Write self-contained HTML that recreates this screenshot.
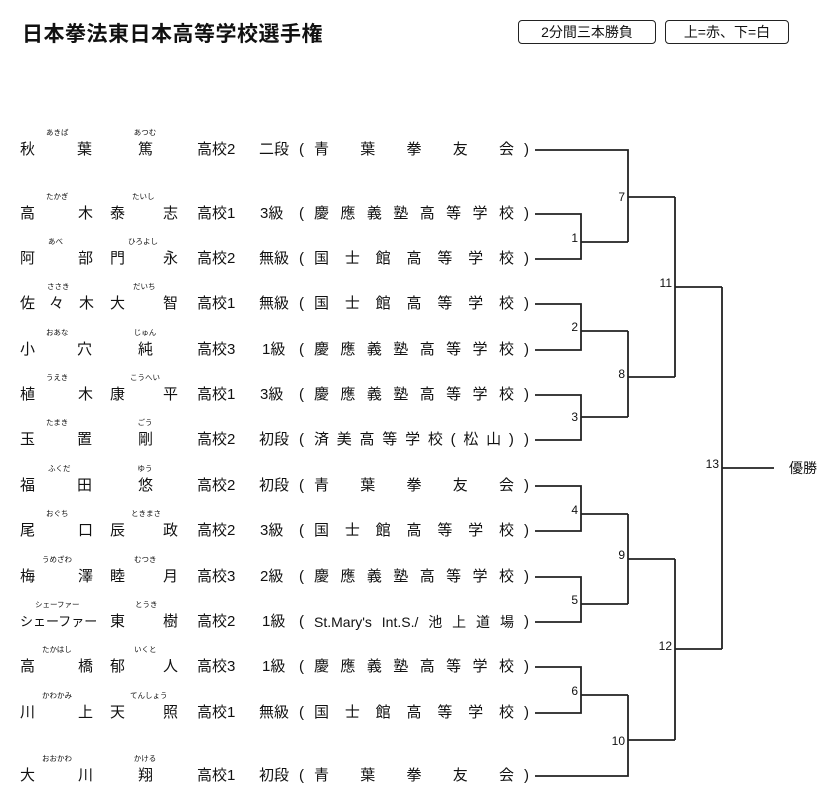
<!DOCTYPE html>
<html><head><meta charset="utf-8"><style>
body{margin:0;background:#fff;width:840px;height:804px;position:relative;overflow:hidden;font-family:"Liberation Sans","Noto Sans CJK JP",sans-serif;color:#111}
.t{position:absolute;left:22px;top:22px;font-size:21px;font-weight:bold;letter-spacing:0.5px;line-height:26px}
.bx{position:absolute;top:20px;height:22px;border:1.5px solid #222;border-radius:4px;font-size:14px;line-height:22px;text-align:center}
.r{position:absolute;left:0;width:540px;height:18px;font-size:15px;line-height:18px}
.r span{position:absolute;top:0;white-space:nowrap}
.r .rb{font-size:7.5px;line-height:8px;top:-12px}
.r .rc{font-size:7.5px;line-height:8px;top:-12px;width:30px;text-align:center}
.af{left:314px;width:200px;display:flex;justify-content:space-between}
.af i{font-style:normal}
svg{position:absolute;left:0;top:0}
</style></head><body>
<div class="t">日本拳法東日本高等学校選手権</div>
<div class="bx" style="left:518px;width:136px">2分間三本勝負</div>
<div class="bx" style="left:665px;width:122px">上=赤、下=白</div>

<div class="r" style="top:141px"><span style="left:20px">秋</span><span class="rb" style="left:46px">あきば</span><span style="left:77px">葉</span><span style="left:138px">篤</span><span class="rc" style="left:130px">あつむ</span><span style="left:197px">高校2</span><span style="left:259px">二段</span><span style="left:299px">(</span><span class="af"><i>青</i><i>葉</i><i>拳</i><i>友</i><i>会</i></span><span style="left:524px">)</span></div>

<div class="r" style="top:205px"><span style="left:20px">高</span><span class="rb" style="left:46px">たかぎ</span><span style="left:78px">木</span><span style="left:110px">泰</span><span class="rb" style="left:132px">たいし</span><span style="left:163px">志</span><span style="left:197px">高校1</span><span style="left:260px">3級</span><span style="left:299px">(</span><span class="af"><i>慶</i><i>應</i><i>義</i><i>塾</i><i>高</i><i>等</i><i>学</i><i>校</i></span><span style="left:524px">)</span></div>

<div class="r" style="top:250px"><span style="left:20px">阿</span><span class="rb" style="left:48px">あべ</span><span style="left:78px">部</span><span style="left:110px">門</span><span class="rb" style="left:128px">ひろよし</span><span style="left:163px">永</span><span style="left:197px">高校2</span><span style="left:259px">無級</span><span style="left:299px">(</span><span class="af"><i>国</i><i>士</i><i>館</i><i>高</i><i>等</i><i>学</i><i>校</i></span><span style="left:524px">)</span></div>

<div class="r" style="top:295px"><span style="left:20px">佐</span><span class="rb" style="left:47px">ささき</span><span style="left:49px">々</span><span style="left:79px">木</span><span style="left:110px">大</span><span class="rb" style="left:133px">だいち</span><span style="left:163px">智</span><span style="left:197px">高校1</span><span style="left:259px">無級</span><span style="left:299px">(</span><span class="af"><i>国</i><i>士</i><i>館</i><i>高</i><i>等</i><i>学</i><i>校</i></span><span style="left:524px">)</span></div>

<div class="r" style="top:341px"><span style="left:20px">小</span><span class="rb" style="left:46px">おあな</span><span style="left:77px">穴</span><span style="left:138px">純</span><span class="rc" style="left:130px">じゅん</span><span style="left:197px">高校3</span><span style="left:262px">1級</span><span style="left:299px">(</span><span class="af"><i>慶</i><i>應</i><i>義</i><i>塾</i><i>高</i><i>等</i><i>学</i><i>校</i></span><span style="left:524px">)</span></div>

<div class="r" style="top:386px"><span style="left:20px">植</span><span class="rb" style="left:46px">うえき</span><span style="left:78px">木</span><span style="left:110px">康</span><span class="rb" style="left:130px">こうへい</span><span style="left:163px">平</span><span style="left:197px">高校1</span><span style="left:260px">3級</span><span style="left:299px">(</span><span class="af"><i>慶</i><i>應</i><i>義</i><i>塾</i><i>高</i><i>等</i><i>学</i><i>校</i></span><span style="left:524px">)</span></div>

<div class="r" style="top:431px"><span style="left:20px">玉</span><span class="rb" style="left:46px">たまき</span><span style="left:77px">置</span><span style="left:138px">剛</span><span class="rc" style="left:130px">ごう</span><span style="left:197px">高校2</span><span style="left:259px">初段</span><span style="left:299px">(</span><span class="af"><i>済</i><i>美</i><i>高</i><i>等</i><i>学</i><i>校</i><i>(</i><i>松</i><i>山</i><i>)</i></span><span style="left:524px">)</span></div>

<div class="r" style="top:477px"><span style="left:20px">福</span><span class="rb" style="left:48px">ふくだ</span><span style="left:77px">田</span><span style="left:138px">悠</span><span class="rc" style="left:130px">ゆう</span><span style="left:197px">高校2</span><span style="left:259px">初段</span><span style="left:299px">(</span><span class="af"><i>青</i><i>葉</i><i>拳</i><i>友</i><i>会</i></span><span style="left:524px">)</span></div>

<div class="r" style="top:522px"><span style="left:20px">尾</span><span class="rb" style="left:46px">おぐち</span><span style="left:78px">口</span><span style="left:110px">辰</span><span class="rb" style="left:131px">ときまさ</span><span style="left:163px">政</span><span style="left:197px">高校2</span><span style="left:260px">3級</span><span style="left:299px">(</span><span class="af"><i>国</i><i>士</i><i>館</i><i>高</i><i>等</i><i>学</i><i>校</i></span><span style="left:524px">)</span></div>

<div class="r" style="top:568px"><span style="left:20px">梅</span><span class="rb" style="left:42px">うめざわ</span><span style="left:78px">澤</span><span style="left:110px">睦</span><span class="rb" style="left:134px">むつき</span><span style="left:163px">月</span><span style="left:197px">高校3</span><span style="left:260px">2級</span><span style="left:299px">(</span><span class="af"><i>慶</i><i>應</i><i>義</i><i>塾</i><i>高</i><i>等</i><i>学</i><i>校</i></span><span style="left:524px">)</span></div>

<div class="r" style="top:613px"><span style="left:20px;font-size:13px">シェーファー</span><span class="rb" style="left:35px">シェーファー</span><span style="left:110px">東</span><span class="rb" style="left:135px">とうき</span><span style="left:163px">樹</span><span style="left:197px">高校2</span><span style="left:262px">1級</span><span style="left:299px">(</span><span class="af" style="font-size:14px"><i>St.Mary's</i><i>Int.S./</i><i>池</i><i>上</i><i>道</i><i>場</i></span><span style="left:524px">)</span></div>

<div class="r" style="top:658px"><span style="left:20px">高</span><span class="rb" style="left:42px">たかはし</span><span style="left:78px">橋</span><span style="left:110px">郁</span><span class="rb" style="left:134px">いくと</span><span style="left:163px">人</span><span style="left:197px">高校3</span><span style="left:262px">1級</span><span style="left:299px">(</span><span class="af"><i>慶</i><i>應</i><i>義</i><i>塾</i><i>高</i><i>等</i><i>学</i><i>校</i></span><span style="left:524px">)</span></div>

<div class="r" style="top:704px"><span style="left:20px">川</span><span class="rb" style="left:42px">かわかみ</span><span style="left:78px">上</span><span style="left:110px">天</span><span class="rb" style="left:130px">てんしょう</span><span style="left:163px">照</span><span style="left:197px">高校1</span><span style="left:259px">無級</span><span style="left:299px">(</span><span class="af"><i>国</i><i>士</i><i>館</i><i>高</i><i>等</i><i>学</i><i>校</i></span><span style="left:524px">)</span></div>

<div class="r" style="top:767px"><span style="left:20px">大</span><span class="rb" style="left:42px">おおかわ</span><span style="left:78px">川</span><span style="left:138px">翔</span><span class="rc" style="left:130px">かける</span><span style="left:197px">高校1</span><span style="left:259px">初段</span><span style="left:299px">(</span><span class="af"><i>青</i><i>葉</i><i>拳</i><i>友</i><i>会</i></span><span style="left:524px">)</span></div>

<svg width="840" height="804" viewBox="0 0 840 804">
<g fill="none" stroke="#222" stroke-width="1.8">
<path d="M535,214H581V259H535M581,242H628"/>
<path d="M535,150H628V242M628,197H675"/>
<path d="M535,304H581V350H535M581,331H628"/>
<path d="M535,395H581V440H535M581,417H628"/>
<path d="M628,331V417M628,377H675"/>
<path d="M675,197V377M675,287H722"/>
<path d="M535,486H581V531H535M581,514H628"/>
<path d="M535,577H581V622H535M581,604H628"/>
<path d="M628,514V604M628,559H675"/>
<path d="M535,667H581V713H535M581,695H628"/>
<path d="M535,776H628V695M628,740H675"/>
<path d="M675,559V740M675,649H722"/>
<path d="M722,287V649M722,468H774"/>
</g>
<g font-family="Liberation Sans, sans-serif" font-size="12" fill="#111" text-anchor="end">
<text x="578" y="242">1</text>
<text x="625" y="201">7</text>
<text x="578" y="331">2</text>
<text x="578" y="421">3</text>
<text x="625" y="378">8</text>
<text x="672" y="287">11</text>
<text x="578" y="514">4</text>
<text x="578" y="604">5</text>
<text x="625" y="559">9</text>
<text x="578" y="695">6</text>
<text x="625" y="745">10</text>
<text x="672" y="650">12</text>
<text x="719" y="468">13</text>
</g>
<text x="789" y="473" font-family="Liberation Sans, Noto Sans CJK JP, sans-serif" font-size="14" fill="#111">優勝</text>
</svg>
</body></html>
